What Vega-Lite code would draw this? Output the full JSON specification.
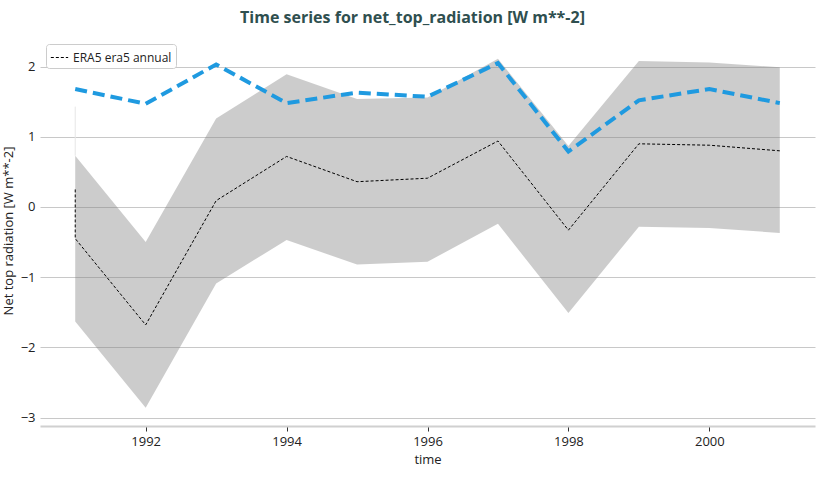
{
  "$schema": "https://vega.github.io/schema/vega-lite/v6.json",
  "autosize": {"type": "none"},
  "width": 775,
  "height": 391,
  "padding": {"left": 40, "top": 35, "right": 10, "bottom": 52},
  "background": "white",
  "title": {
    "text": "Time series for net_top_radiation [W m**-2]",
    "font": "Open Sans",
    "fontSize": 16,
    "fontWeight": "bold",
    "color": "#2f4f4f",
    "anchor": "middle",
    "dx": -15,
    "offset": 9
  },
  "config": {
    "view": {"stroke": null},
    "font": "Open Sans",
    "axis": {"labelFont": "Open Sans", "titleFont": "Open Sans", "labelColor": "#222", "titleColor": "#222", "labelFontSize": 13, "titleFontSize": 13, "titleFontWeight": "normal"}
  },
  "datasets": {
    "annual": [
      {"year": 1991, "hi": 0.73, "lo": -1.63, "blue": 1.68},
      {"year": 1992, "hi": -0.50, "lo": -2.86, "blue": 1.47},
      {"year": 1993, "hi": 1.26, "lo": -1.09, "blue": 2.03},
      {"year": 1994, "hi": 1.89, "lo": -0.47, "blue": 1.48},
      {"year": 1995, "hi": 1.54, "lo": -0.82, "blue": 1.63},
      {"year": 1996, "hi": 1.56, "lo": -0.78, "blue": 1.57},
      {"year": 1997, "hi": 2.11, "lo": -0.24, "blue": 2.05},
      {"year": 1998, "hi": 0.87, "lo": -1.51, "blue": 0.79},
      {"year": 1999, "hi": 2.08, "lo": -0.28, "blue": 1.52},
      {"year": 2000, "hi": 2.06, "lo": -0.30, "blue": 1.68},
      {"year": 2001, "hi": 1.99, "lo": -0.37, "blue": 1.48}
    ],
    "era5": [
      {"year": 1991, "value": 0.25, "order": 0, "series": "ERA5 era5 annual"},
      {"year": 1991, "value": -0.45, "order": 1, "series": "ERA5 era5 annual"},
      {"year": 1992, "value": -1.68, "order": 2, "series": "ERA5 era5 annual"},
      {"year": 1993, "value": 0.09, "order": 3, "series": "ERA5 era5 annual"},
      {"year": 1994, "value": 0.72, "order": 4, "series": "ERA5 era5 annual"},
      {"year": 1995, "value": 0.36, "order": 5, "series": "ERA5 era5 annual"},
      {"year": 1996, "value": 0.41, "order": 6, "series": "ERA5 era5 annual"},
      {"year": 1997, "value": 0.94, "order": 7, "series": "ERA5 era5 annual"},
      {"year": 1998, "value": -0.33, "order": 8, "series": "ERA5 era5 annual"},
      {"year": 1999, "value": 0.90, "order": 9, "series": "ERA5 era5 annual"},
      {"year": 2000, "value": 0.88, "order": 10, "series": "ERA5 era5 annual"},
      {"year": 2001, "value": 0.80, "order": 11, "series": "ERA5 era5 annual"}
    ],
    "faint": [
      {"year": 1991, "top": 1.43, "bottom": 0.73}
    ]
  },
  "layer": [
    {
      "data": {"name": "annual"},
      "mark": {"type": "area", "fill": "#808080", "opacity": 0.4},
      "encoding": {
        "x": {
          "field": "year", "type": "quantitative",
          "scale": {"domain": [1990.5, 2001.5], "nice": false, "zero": false},
          "axis": {"values": [1992, 1994, 1996, 1998, 2000], "format": "d", "title": "time", "grid": false, "domainColor": "#d0d0d0", "domainWidth": 2, "tickColor": "#333", "tickSize": 5, "labelPadding": 4, "titlePadding": 5, "labelBound": false}
        },
        "y": {
          "field": "hi", "type": "quantitative",
          "scale": {"domain": [-3.12, 2.45], "nice": false, "zero": false},
          "axis": {"values": [-3, -2, -1, 0, 1, 2], "format": "d", "title": "Net top radiation [W m**-2]", "ticks": false, "domain": false, "grid": true, "gridColor": "#c8c8c8", "gridWidth": 1, "labelPadding": 5, "titlePadding": 5}
        },
        "y2": {"field": "lo"}
      }
    },
    {
      "data": {"name": "faint"},
      "mark": {"type": "rule", "color": "#e6e6e6", "strokeWidth": 1},
      "encoding": {
        "x": {"field": "year", "type": "quantitative"},
        "y": {"field": "top", "type": "quantitative"},
        "y2": {"field": "bottom"}
      }
    },
    {
      "data": {"name": "annual"},
      "mark": {"type": "line", "color": "#1f9ae0", "strokeWidth": 4, "strokeDash": [12, 6]},
      "encoding": {
        "x": {"field": "year", "type": "quantitative"},
        "y": {"field": "blue", "type": "quantitative"}
      }
    },
    {
      "data": {"name": "era5"},
      "mark": {"type": "line", "strokeWidth": 1, "strokeDash": [3, 2]},
      "encoding": {
        "x": {"field": "year", "type": "quantitative"},
        "y": {"field": "value", "type": "quantitative"},
        "order": {"field": "order", "type": "quantitative"},
        "color": {
          "field": "series", "type": "nominal",
          "scale": {"domain": ["ERA5 era5 annual"], "range": ["black"]},
          "legend": {
            "title": null, "orient": "none", "legendX": 6, "legendY": 9,
            "symbolType": "stroke", "symbolDash": [3, 2], "symbolStrokeWidth": 1, "symbolSize": 300,
            "labelFont": "Open Sans", "labelFontSize": 12, "labelColor": "#222",
            "fillColor": "white", "strokeColor": "#cccccc", "cornerRadius": 3, "padding": 4
          }
        }
      }
    }
  ]
}
